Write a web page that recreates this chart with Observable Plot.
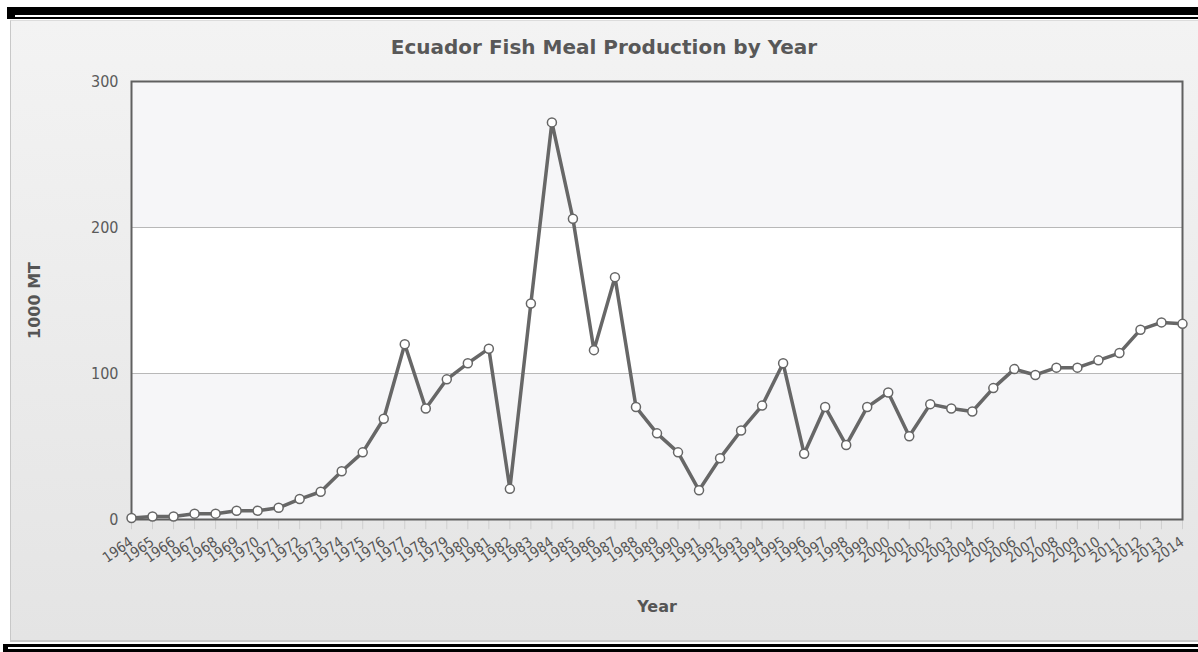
<!DOCTYPE html>
<html>
<head>
<meta charset="utf-8">
<script src="https://cdn.jsdelivr.net/npm/d3@7"></script>
<script src="https://cdn.jsdelivr.net/npm/@observablehq/plot@0.6"></script>
<style>
  html, body { margin: 0; padding: 0; background: #fff; }
  #page { position: relative; width: 1198px; height: 652px; overflow: hidden; background: #fff; }
  #topbar { position: absolute; left: 7px; top: 7px; right: 0; height: 12px; background: #000; }
  #topline { position: absolute; left: 15px; top: 15px; right: 0; height: 1.5px; background: #fff; }
  #botbar { position: absolute; left: 3px; top: 644px; right: 0; height: 8px; background: #000; }
  #botline { position: absolute; left: 8px; top: 647px; right: 0; height: 1.5px; background: #fff; }
  #panel { position: absolute; left: 10px; top: 20px; right: 0; height: 622px;
           background: linear-gradient(#f3f3f3, #e4e4e4); border-left: 1px solid #c8c8c8; border-top: 1px solid #dcdcdc; border-bottom: 2px solid #c8c8c8; box-sizing: border-box; }
  #title { position: absolute; left: 10px; right: 0; top: 34px; text-align: center;
           font: bold 20px "DejaVu Sans", sans-serif; color: #585858; line-height: 26px; }
  #chart { position: absolute; left: 0; top: 0; }
</style>
</head>
<body>
<div id="page">
  <div id="topbar"></div>
  <div id="topline"></div>
  <div id="panel"></div>
  <div id="botbar"></div>
  <div id="botline"></div>
  <div id="title">Ecuador Fish Meal Production by Year</div>
  <div id="chart"></div>
</div>
<script>
const years = [1964,1965,1966,1967,1968,1969,1970,1971,1972,1973,1974,1975,1976,1977,1978,1979,
  1980,1981,1982,1983,1984,1985,1986,1987,1988,1989,1990,1991,1992,1993,1994,1995,1996,1997,1998,1999,
  2000,2001,2002,2003,2004,2005,2006,2007,2008,2009,2010,2011,2012,2013,2014];
const production = [1,2,2,4,4,6,6,8,14,19,33,46,69,120,76,96,
  107,117,21,148,272,206,116,166,77,59,46,20,42,61,78,107,45,77,51,77,
  87,57,79,76,74,90,103,99,104,104,109,114,130,135,134];
const yTicks = [0,100,200,300];
const shadedBands = [0,200];

const data = years.map((year, i) => ({year, value: production[i]}));
const x0 = years[0], x1 = years[years.length - 1];

const chart = Plot.plot({
  width: 1198,
  height: 620,
  marginLeft: 131,
  marginRight: 16,
  marginTop: 81,
  marginBottom: 101,
  style: {background: "transparent", fontFamily: "'DejaVu Sans Condensed', 'DejaVu Sans', sans-serif"},
  x: {type: "linear", domain: [x0, x1]},
  y: {domain: [0, 300]},
  marks: [
    Plot.rect(shadedBands, {x1: x0, x2: x1, y1: d => d, y2: d => d + 100, fill: "#f6f6f8"}),
    Plot.rect([100], {x1: x0, x2: x1, y1: d => d, y2: d => d + 100, fill: "#ffffff"}),
    Plot.ruleY([100, 200], {stroke: "#b8b8b8", strokeWidth: 1}),
    Plot.ruleX(years, {x: d => d, y1: 0, y2: -7, stroke: "#cfcfcf", strokeWidth: 1}),
    Plot.axisY({ticks: yTicks, tickSize: 0, tickPadding: 13, fontSize: 16, color: "#5a5a5a",
      label: "1000 MT", labelAnchor: "center", labelArrow: "none", labelOffset: 103}),
    Plot.axisX({ticks: years, tickFormat: d => String(d), tickSize: 0, tickPadding: 21,
      tickRotate: -35, fontSize: 14.5, color: "#555",
      label: "Year", labelAnchor: "center", labelArrow: "none", labelOffset: 92}),
    Plot.frame({stroke: "#606060", strokeWidth: 2}),
    Plot.line(data, {x: "year", y: "value", stroke: "#676767", strokeWidth: 3.5, strokeLinejoin: "round"}),
    Plot.dot(data, {x: "year", y: "value", r: 4.5, fill: "#ffffff", stroke: "#666666", strokeWidth: 1.5})
  ]
});
document.getElementById("chart").appendChild(chart);

// bold axis titles
chart.querySelectorAll("[aria-label='y-axis label'] text, [aria-label='x-axis label'] text").forEach(t => {
  t.setAttribute("font-weight", "bold");
  t.setAttribute("font-size", "16");
  t.setAttribute("font-family", "'DejaVu Sans', sans-serif");
  t.setAttribute("fill", "#555");
});
</script>
</body>
</html>
